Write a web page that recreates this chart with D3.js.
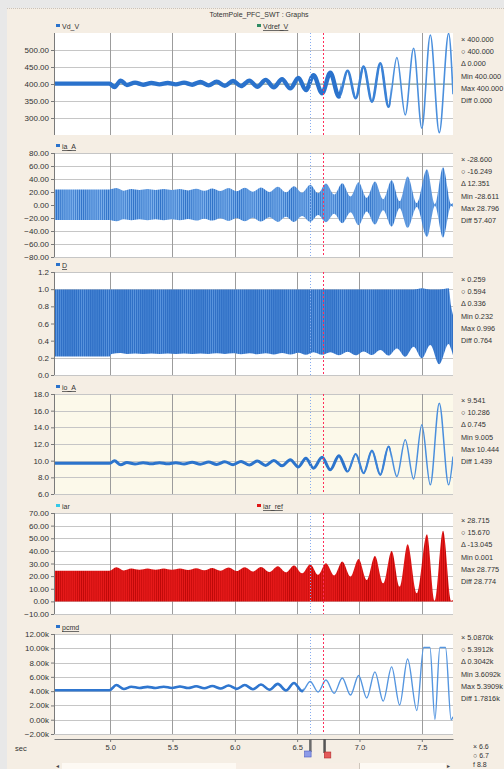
<!DOCTYPE html>
<html>
<head>
<meta charset="utf-8">
<script src="https://cdn.jsdelivr.net/npm/d3@7"></script>
<style>
body{margin:0;background:#f5eee4;}
svg{display:block;font-family:"Liberation Sans",Arial,sans-serif;}
</style>
</head>
<body>
<svg id="chart" width="504" height="769"></svg>
<script>
// time axis
var xTicks=[5.0,5.5,6.0,6.5,7.0,7.5];
var cursorT=[6.6,6.71];

// extrema of the slow oscillation (Vd_V, io_A)
var tSlow=[4.55,4.995,5.035,5.085,5.135,5.20,5.265,5.331,5.396,5.462,5.527,5.593,5.658,5.724,5.79,5.855,5.92,5.986,6.05,6.117,6.18,6.248,6.313,6.379,6.445,6.51,6.57,6.631,6.70,6.766,6.835,6.905,6.97,7.033,7.10,7.167,7.233,7.30,7.367,7.434,7.50,7.568,7.64,7.715,7.75];
var vdV=[401,401,391,410,397,404,398,403,399,403,399,404,398,406,396,407,395,409,394,410,392,412,390,414,387,418,382,426,373,433,363,439,358,451,348,461,333,478,309,505,270,544,257,549,370];
var ioV=[9.68,9.68,9.98,9.5,9.78,9.6,9.75,9.62,9.75,9.62,9.76,9.6,9.8,9.58,9.83,9.55,9.86,9.52,9.9,9.48,9.95,9.43,10.02,9.38,10.12,9.25,10.3,9.1,10.4,8.9,10.6,8.7,10.8,8.5,11.2,8.3,11.7,8.1,12.5,7.8,14.3,7.1,16.9,7.1,10.5];
var vdrefT=[4.55,7.75];
var vdrefV=[400,400];

// envelope of D
var dT=[4.55,4.995,5.01,5.085,5.135,5.20,5.265,5.331,5.396,5.462,5.527,5.593,5.658,5.724,5.79,5.855,5.92,5.986,6.05,6.117,6.18,6.248,6.313,6.379,6.445,6.51,6.57,6.631,6.70,6.766,6.835,6.905,6.97,7.033,7.10,7.167,7.233,7.30,7.367,7.434,7.50,7.568,7.64,7.715,7.735,7.75];
var dLo=[0.215,0.215,0.245,0.256,0.246,0.25,0.246,0.25,0.246,0.25,0.246,0.251,0.245,0.251,0.245,0.252,0.244,0.252,0.243,0.253,0.242,0.254,0.24,0.256,0.238,0.26,0.235,0.265,0.235,0.266,0.23,0.27,0.23,0.275,0.232,0.29,0.226,0.31,0.214,0.33,0.195,0.35,0.125,0.36,0.3,0.23];
var dHi=[0.995,0.995,0.995,0.995,0.995,0.995,0.995,0.995,0.995,0.995,0.995,0.995,0.995,0.995,0.995,0.995,0.995,0.995,0.995,0.995,0.995,0.995,0.995,0.995,0.995,0.995,0.995,0.995,0.995,0.995,0.995,0.995,0.995,0.995,0.995,0.995,0.995,0.995,0.995,0.995,1.01,0.995,0.995,1.01,0.8,0.7];

// extrema of the command loop (ia_A envelope, iar_ref envelope)
var tCmd=[4.55,4.995,5.05,5.11,5.17,5.235,5.30,5.365,5.43,5.495,5.56,5.625,5.69,5.755,5.82,5.885,5.95,6.015,6.08,6.145,6.21,6.278,6.345,6.41,6.475,6.54,6.605,6.668,6.731,6.797,6.862,6.928,6.993,7.058,7.124,7.19,7.258,7.322,7.386,7.46,7.541,7.605,7.670,7.735,7.75];
var iaHi=[24,24,26,22,24.5,23,24.5,23,24.5,23,24.5,22.5,25,22,25.5,21.5,26,21,26.5,20.5,27,20,28,19.5,29,19,31,18,33,16,33.5,13,35,11,36,9,38,6,44,3,55,1.5,58,1.5,3];
var iaLo=[-23,-23,-25,-22,-23.5,-22,-23.5,-22,-23.5,-22,-23.5,-21.5,-24,-21,-24,-20.5,-24.5,-20,-25,-19.5,-25.5,-19,-26,-18,-26,-17,-26,-15.5,-26.5,-13.5,-28,-11,-31,-10,-30,-8,-33,-5,-35,-3,-49,-1.5,-50,-1.5,-3];
var iarHi=[24.3,24.3,27,24.5,26,25,26,25,26,25,26,24.8,26.2,24.6,26.5,24.3,26.8,24,27,23.7,27.3,23.3,27.8,23,28.5,22.2,29.4,21,30.2,20.5,31.5,19.6,33.6,17,36,14.3,40,11.7,45.3,6.4,53.2,0.5,55.9,0.5,1];

// pcmd (k)
var pcmdT=[4.55,4.995,5.05,5.11,5.17,5.235,5.30,5.365,5.43,5.495,5.56,5.625,5.69,5.755,5.82,5.885,5.95,6.015,6.08,6.145,6.21,6.278,6.345,6.41,6.475,6.54,6.605,6.668,6.731,6.797,6.862,6.928,6.993,7.058,7.124,7.19,7.258,7.322,7.386,7.46,7.515,7.565,7.605,7.645,7.69,7.735,7.75];
var pcmdV=[4.12,4.12,4.85,4.3,4.62,4.45,4.6,4.45,4.62,4.45,4.65,4.43,4.68,4.4,4.72,4.36,4.78,4.32,4.85,4.27,4.92,4.2,5.02,4.1,5.15,4.0,5.35,3.88,5.55,3.7,5.85,3.45,6.2,3.05,6.7,2.6,7.4,2.05,8.5,1.3,10.1,10.1,0.05,10.1,10.1,0.0,0.4];

// y tick labels
var vdTicks=[300,350,400,450,500];
var iaTicks=[-80,-60,-40,-20,0,20,40,60,80];
var dTicks=[0,0.2,0.4,0.6,0.8,1.0,1.2];
var ioTicks=[6,8,10,12,14,16,18];
var iarTicks=[-10,0,10,20,30,40,50,60,70];
var pcmdTicks=[-2,0,2,4,6,8,10,12];

// cursor readouts
var vdStats=["× 400.000","○ 400.000","Δ 0.000","Min 400.000","Max 400.000","Diff 0.000"];
var iaStats=["× -28.600","○ -16.249","Δ 12.351","Min -28.611","Max 28.796","Diff 57.407"];
var dStats=["× 0.259","○ 0.594","Δ 0.336","Min 0.232","Max 0.996","Diff 0.764"];
var ioStats=["× 9.541","○ 10.286","Δ 0.745","Min 9.005","Max 10.444","Diff 1.439"];
var iarStats=["× 28.715","○ 15.670","Δ -13.045","Min 0.001","Max 28.775","Diff 28.774"];
var pcmdStats=["× 5.0870k","○ 5.3912k","Δ 0.3042k","Min 3.6092k","Max 5.3909k","Diff 1.7816k"];
var cursorStats=["× 6.6","○ 6.7","f 8.8"];

var svg=d3.select("#chart");
var defs=svg.append("defs");
var X0=54, X1=453;
var x=d3.scaleLinear().domain([4.55,7.75]).range([X0,X1]);
var zip=function(t,v){ return t.map(function(d,i){return [d,v[i]];}); };

// window chrome
svg.append("rect").attr("width",504).attr("height",769).attr("fill","#f5eee4");
svg.append("rect").attr("width",504).attr("height",8).attr("fill","#e8e8e8");
svg.append("rect").attr("width",7).attr("height",769).attr("fill","#e8e8e8");
svg.append("line").attr("x1",7).attr("x2",504).attr("y1",8.5).attr("y2",8.5)
    .attr("stroke","#c9c2ba").attr("stroke-dasharray","1,1");
svg.append("text").attr("x",259).attr("y",17).attr("text-anchor","middle")
    .attr("font-size",7).attr("fill","#333").text("TotemPole_PFC_SWT : Graphs");

// stripe fills for dense switching waveforms
var stripe=function(id,base,line,w,lw){
    var pat=defs.append("pattern").attr("id",id).attr("patternUnits","userSpaceOnUse")
        .attr("width",w).attr("height",8);
    pat.append("rect").attr("width",w).attr("height",8).attr("fill",base);
    pat.append("rect").attr("width",lw).attr("height",8).attr("fill",line);
}
stripe("iaFill","#7cb0eb","#2f72c8",2.08,0.9);
stripe("dFill","#2f70c6","#5a95de",2.08,0.7);
stripe("iarFill","#e71a1a","#bd0808",2.08,0.7);

var panels=[
 {id:"vd",top:33,bottom:135,domain:[250,550],ticks:vdTicks,fmt:d3.format(".2f"),bg:"#ffffff",stats:vdStats,statY:42,
  legend:[{label:"Vd_V",color:"#2a72cc",x:56,u:false},{label:"Vdref_V",color:"#2e8b63",x:257,u:true}]},
 {id:"ia",top:153,bottom:257,domain:[-80,80],ticks:iaTicks,fmt:d3.format(".2f"),bg:"#ffffff",stats:iaStats,statY:162,
  legend:[{label:"ia_A",color:"#2a72cc",x:56,u:true}]},
 {id:"d",top:272,bottom:375,domain:[0,1.2],ticks:dTicks,fmt:d3.format(".1f"),bg:"#ffffff",stats:dStats,statY:282,
  legend:[{label:"D",color:"#2a72cc",x:56,u:true}]},
 {id:"io",top:394,bottom:494,domain:[6,18],ticks:ioTicks,fmt:d3.format(".1f"),bg:"#fcf9ea",stats:ioStats,statY:403,
  legend:[{label:"io_A",color:"#2a72cc",x:56,u:true}]},
 {id:"iar",top:513,bottom:614,domain:[-10,70],ticks:iarTicks,fmt:d3.format(".2f"),bg:"#ffffff",stats:iarStats,statY:523,
  legend:[{label:"iar",color:"#35c8e8",x:56,u:false},{label:"iar_ref",color:"#e01515",x:257,u:true}]},
 {id:"pcmd",top:634,bottom:734,domain:[-2,12],ticks:pcmdTicks,fmt:function(d){return d3.format(".2f")(d)+"k";},bg:"#ffffff",stats:pcmdStats,statY:640,
  legend:[{label:"pcmd",color:"#2a72cc",x:56,u:true}]}
];
var P={};

panels.forEach(function(p){
    P[p.id]=p;
    p.y=d3.scaleLinear().domain(p.domain).range([p.bottom,p.top]);
    var g=svg.append("g");
    g.append("rect").attr("x",X0).attr("y",p.top).attr("width",X1-X0).attr("height",p.bottom-p.top).attr("fill",p.bg);
    g.append("g").selectAll("line").data(p.ticks).enter().append("line")
        .attr("x1",X0).attr("x2",X1).attr("y1",function(d){return Math.round(p.y(d))+0.5;})
        .attr("y2",function(d){return Math.round(p.y(d))+0.5;}).attr("stroke","#c6c6c6");
    g.append("g").selectAll("line").data(xTicks).enter().append("line")
        .attr("x1",function(d){return Math.round(x(d))+0.5;}).attr("x2",function(d){return Math.round(x(d))+0.5;})
        .attr("y1",p.top).attr("y2",p.bottom).attr("stroke","#9c9c9c");
    defs.append("clipPath").attr("id","clip-"+p.id).append("rect")
        .attr("x",X0).attr("y",p.top).attr("width",X1-X0).attr("height",p.bottom-p.top);
    p.plot=g.append("g").attr("clip-path","url(#clip-"+p.id+")");
    p.over=g.append("g").attr("clip-path","url(#clip-"+p.id+")");
    var ax=g.append("g").attr("transform","translate("+X0+",0)")
        .call(d3.axisLeft(p.y).tickValues(p.ticks).tickSize(3).tickSizeOuter(0).tickPadding(2).tickFormat(p.fmt));
    ax.attr("font-family",null).attr("font-size",8);
    ax.select(".domain").attr("stroke","#7a7a7a").attr("d","M0.5,"+p.top+"V"+p.bottom);
    ax.selectAll("line").attr("stroke","#7a7a7a");
    ax.selectAll("text").attr("fill","#333");
    p.legend.forEach(function(l){
        var by=p.top-4;
        g.append("rect").attr("x",l.x).attr("y",by-5).attr("width",4).attr("height",3).attr("fill",l.color);
        g.append("text").attr("x",l.x+6).attr("y",by).attr("font-size",7).attr("fill","#333")
            .attr("text-decoration",l.u?"underline":null).text(l.label);
    });
    g.append("g").selectAll("text").data(p.stats).enter().append("text")
        .attr("x",461).attr("y",function(d,i){return p.statY+i*12.2;})
        .attr("font-size",7.3).attr("fill","#333").text(function(d){return d;});
});

var segClip=function(id,p,t0,t1){
    defs.append("clipPath").attr("id",id).append("rect")
        .attr("x",x(t0)).attr("y",p.top).attr("width",x(t1)-x(t0)).attr("height",p.bottom-p.top);
    return "url(#"+id+")";
}
var drawLine=function(p,data,color,width,clip){
    var line=d3.line().x(function(d){return x(d[0]);}).y(function(d){return p.y(d[1]);}).curve(d3.curveMonotoneX);
    var path=p.plot.append("path").datum(data).attr("d",line).attr("fill","none")
        .attr("stroke",color).attr("stroke-width",width).attr("stroke-linejoin","round");
    if(clip) path.attr("clip-path",clip);
}
var drawBand=function(p,t,hi,lo,fill){
    var area=d3.area().x(function(d){return x(d[0]);})
        .y0(function(d){return p.y(d[2]);}).y1(function(d){return p.y(d[1]);}).curve(d3.curveMonotoneX);
    p.plot.append("path").datum(t.map(function(d,i){return [d,hi[i],lo[i]];})).attr("d",area).attr("fill",fill);
}

// Vd_V
var vd=zip(tSlow,vdV);
drawLine(P.vd,zip(vdrefT,vdrefV),"#7f9c93",1);
drawLine(P.vd,vd,"#4a8fdd",1.6);
drawLine(P.vd,vd,"#3b82d6",2.6,segClip("vdMid",P.vd,6.85,7.25));
drawLine(P.vd,vd,"#2a72cc",4.4,segClip("vdThick",P.vd,4.5,6.85));

// ia_A
drawBand(P.ia,tCmd,iaHi,iaLo,"url(#iaFill)");

// D
drawBand(P.d,dT,dHi,dLo,"url(#dFill)");

// io_A
var io=zip(tSlow,ioV);
drawLine(P.io,io,"#4a8fdd",1.5);
drawLine(P.io,io,"#3b82d6",2.2,segClip("ioMid",P.io,6.9,7.25));
drawLine(P.io,io,"#2c74cc",3.0,segClip("ioThick",P.io,4.5,6.9));

// iar_ref
drawBand(P.iar,tCmd,iarHi,tCmd.map(function(){return 0;}),"url(#iarFill)");

// pcmd
var pc=zip(pcmdT,pcmdV);
drawLine(P.pcmd,pc,"#5596e0",1.4);
drawLine(P.pcmd,pc,"#2f76cf",2.6,segClip("pcThick",P.pcmd,4.5,6.55));

// cursors
panels.forEach(function(p){
    p.over.append("line").attr("x1",Math.round(x(cursorT[0]))+0.5).attr("x2",Math.round(x(cursorT[0]))+0.5)
        .attr("y1",p.top).attr("y2",p.bottom).attr("stroke","#86acf0").attr("stroke-dasharray","1,2");
    p.over.append("line").attr("x1",Math.round(x(cursorT[1]))+0.5).attr("x2",Math.round(x(cursorT[1]))+0.5)
        .attr("y1",p.top).attr("y2",p.bottom).attr("stroke","#ff2f5a").attr("stroke-dasharray","2,2");
});

// time axis
var xa=svg.append("g").attr("transform","translate(0,739)")
    .call(d3.axisBottom(x).tickValues(xTicks).tickSize(3).tickSizeOuter(0).tickPadding(3).tickFormat(d3.format(".1f")));
xa.attr("font-family",null).attr("font-size",7.5);
xa.select(".domain").attr("stroke","#7a7a7a");
xa.selectAll("line").attr("stroke","#7a7a7a");
xa.selectAll("text").attr("fill","#333");
svg.append("text").attr("x",15).attr("y",751).attr("font-size",7.5).attr("fill","#333").text("sec");

// cursor handles
svg.append("rect").attr("x",x(cursorT[0])-0.5).attr("y",739).attr("width",2.5).attr("height",13).attr("fill","#6b6b6b");
svg.append("rect").attr("x",x(cursorT[0])-5).attr("y",751).attr("width",6.5).attr("height",6).attr("fill","#8c9ae8").attr("stroke","#4b5cc0").attr("stroke-width",0.6);
svg.append("rect").attr("x",x(cursorT[1])).attr("y",739).attr("width",2.5).attr("height",14).attr("fill","#555");
svg.append("rect").attr("x",x(cursorT[1])+1).attr("y",752).attr("width",6.5).attr("height",6).attr("fill","#e45a5a").attr("stroke","#b42a2a").attr("stroke-width",0.6);

svg.append("g").selectAll("text").data(cursorStats).enter().append("text")
    .attr("x",473).attr("y",function(d,i){return 749+i*9;})
    .attr("font-size",7).attr("fill","#333").text(function(d){return d;});

// scrollbar
svg.append("rect").attr("x",62).attr("y",763).attr("width",384).attr("height",6).attr("fill","#fdf9f3");
svg.append("rect").attr("x",236).attr("y",763).attr("width",123).attr("height",6).attr("fill","#f7eee5");
svg.append("line").attr("x1",359.5).attr("x2",359.5).attr("y1",763).attr("y2",769).attr("stroke","#cfc6bc");
svg.append("text").attr("x",56).attr("y",768).attr("font-size",6).attr("fill","#444").text("◂");
svg.append("text").attr("x",447).attr("y",768).attr("font-size",6).attr("fill","#444").text("▸");
</script>
</body>
</html>
